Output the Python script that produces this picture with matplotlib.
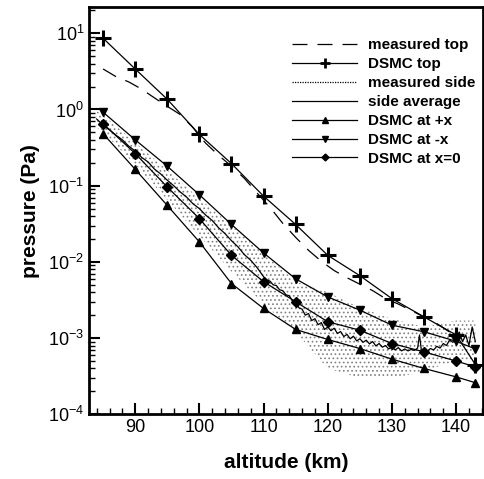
import matplotlib
matplotlib.use("Agg")
import matplotlib.pyplot as plt
from matplotlib.lines import Line2D
from matplotlib.ticker import MultipleLocator, LogLocator

plt.rcParams['font.family'] = ['Liberation Sans', 'DejaVu Sans']
plt.rcParams['mathtext.fontset'] = 'custom'
plt.rcParams['mathtext.rm'] = 'Liberation Sans'
plt.rcParams['hatch.linewidth'] = 0.7

# DSMC runs
alt_dsmc = [85, 90, 95, 100, 105, 110, 115, 120, 125, 130, 135, 140, 143]
dsmc_top = [8.6, 3.4, 1.36, 0.47, 0.195, 0.073, 0.031, 0.0122, 0.0066, 0.0033, 0.0019, 0.0011, 0.00045]
dsmc_px = [0.48, 0.164, 0.055, 0.0183, 0.0052, 0.00245, 0.0013, 0.00096, 0.00073, 0.00053, 0.0004, 0.00031, 0.00026]
dsmc_mx = [0.92, 0.40, 0.18, 0.076, 0.031, 0.0131, 0.006, 0.00347, 0.00233, 0.00148, 0.00121, 0.00091, 0.00072]
dsmc_x0 = [0.65, 0.264, 0.096, 0.037, 0.0122, 0.0055, 0.003, 0.00164, 0.00127, 0.00085, 0.00066, 0.0005, 0.00042]

# measured top
alt_mtop = [85, 87, 89, 91, 93, 95, 97, 99, 100, 101, 103, 105, 107, 109, 111, 113, 115,
            117, 119, 121, 123, 125, 127, 129, 131, 133, 135, 137, 139]
meas_top = [3.4, 2.7, 2.3, 1.85, 1.42, 1.1, 0.86, 0.58, 0.45, 0.36, 0.25, 0.18, 0.125, 0.08,
            0.052, 0.032, 0.021, 0.0142, 0.0102, 0.0077, 0.0062, 0.0051, 0.0042, 0.0033,
            0.0028, 0.0023, 0.0019, 0.00155, 0.0012]

# measured side: spread of the traces
alt_side = [84, 85, 90, 95, 100, 105, 110, 115, 120, 125, 130, 135, 138, 140, 143]
side_hi = [0.95, 0.85, 0.37, 0.16, 0.068, 0.03, 0.013, 0.0055, 0.004, 0.0025, 0.0018, 0.0014, 0.0016, 0.0017, 0.0017]
side_lo = [0.58, 0.5, 0.19, 0.065, 0.022, 0.0075, 0.0028, 0.0012, 0.0004, 0.0003, 0.0003, 0.00036, 0.00045, 0.0005, 0.0005]

# side average
alt_avg = [84, 85, 86, 87, 88, 89, 90, 91, 92, 93, 94, 95, 96, 97, 98, 99, 100, 101, 102,
           103, 104, 105, 106, 107, 108, 109, 110, 110.5, 111, 111.5, 112, 112.5, 113,
           113.5, 114, 114.5, 115, 115.5, 116, 116.5, 117, 117.5, 118, 118.5, 119, 119.5,
           120, 120.5, 121, 121.5, 122, 122.5, 123, 123.5, 124, 124.5, 125, 125.5, 126,
           126.5, 127, 127.5, 128, 128.5, 129, 129.5, 130, 130.5, 131, 131.5, 132, 132.5,
           133, 133.5, 134, 134.3, 134.6, 135, 135.5, 136, 136.5, 137, 137.5, 138, 138.5,
           139, 139.5, 140, 140.5, 141, 141.5, 142, 142.5, 143]
side_avg = [0.75, 0.62, 0.54, 0.46, 0.4, 0.33, 0.285, 0.235, 0.205, 0.165, 0.142, 0.118,
            0.1, 0.083, 0.071, 0.058, 0.05, 0.041, 0.035, 0.028, 0.0235, 0.019, 0.0158,
            0.0125, 0.0105, 0.0084, 0.0064, 0.0058, 0.0056, 0.005, 0.0049, 0.0043, 0.0042,
            0.0037, 0.0036, 0.0031, 0.003, 0.0025, 0.0024, 0.002, 0.0021, 0.0017, 0.0018,
            0.0015, 0.0016, 0.0013, 0.0014, 0.00125, 0.00135, 0.00115, 0.00122, 0.00105,
            0.00112, 0.00098, 0.00106, 0.00092, 0.00098, 0.00088, 0.00094, 0.00084, 0.0009,
            0.00079, 0.00085, 0.00076, 0.0008, 0.00072, 0.00077, 0.0007, 0.00075, 0.00068,
            0.00072, 0.00068, 0.00071, 0.00069, 0.00074, 0.0011, 0.00068, 0.00071, 0.00067,
            0.00073, 0.0007, 0.00078, 0.00074, 0.00085, 0.0008, 0.00095, 0.00088, 0.001,
            0.0012, 0.0009, 0.0011, 0.0008, 0.0014, 0.0009]

fig = plt.figure(figsize=(4.85, 4.79), dpi=100)
ax = fig.add_axes([0.1835, 0.135, 0.8125, 0.85])

ax.fill_between(alt_side, side_lo, side_hi, facecolor='none', edgecolor='0.5',
                hatch='....', linewidth=0)
ax.plot(alt_mtop, meas_top, color='k', lw=0.9, ls=(0, (12, 8)))
ax.plot(alt_avg, side_avg, color='k', lw=0.9)
ax.plot(alt_dsmc, dsmc_top, color='k', lw=0.9, marker='+', ms=11, mew=2.2)
ax.plot(alt_dsmc, dsmc_px, color='k', lw=0.9, marker='^', ms=6)
ax.plot(alt_dsmc, dsmc_mx, color='k', lw=0.9, marker='v', ms=6)
ax.plot(alt_dsmc, dsmc_x0, color='k', lw=0.9, marker='D', ms=5.5)

ax.set_yscale('log')
ax.set_xlim(82.8, 144.2)
ax.set_ylim(1e-4, 22)
ax.xaxis.set_major_locator(MultipleLocator(10))
ax.xaxis.set_minor_locator(MultipleLocator(2))
ax.yaxis.set_major_locator(LogLocator(base=10, numticks=10))
ax.yaxis.set_minor_locator(LogLocator(base=10, subs=range(2, 10), numticks=10))
ax.tick_params(which='both', direction='in', top=False, right=False, labelsize=13)
ax.tick_params(which='major', length=8, width=1.5)
ax.tick_params(which='minor', length=4, width=1)
for s in ax.spines.values():
    s.set_linewidth(2)

ax.set_xlabel('altitude (km)', fontsize=15, fontweight='bold', labelpad=12)
ax.set_ylabel('pressure (Pa)', fontsize=15, fontweight='bold', labelpad=6)

handles = [
    Line2D([], [], color='k', lw=0.9, ls=(0, (12, 8))),
    Line2D([], [], color='k', lw=0.9, marker='+', ms=7, mew=2),
    Line2D([], [], color='k', lw=0.9, ls=(0, (1, 1))),
    Line2D([], [], color='k', lw=0.9),
    Line2D([], [], color='k', lw=0.9, marker='^', ms=4),
    Line2D([], [], color='k', lw=0.9, marker='v', ms=4),
    Line2D([], [], color='k', lw=0.9, marker='D', ms=3.5),
]
labels = ['measured top', 'DSMC top', 'measured side', 'side average',
          'DSMC at +x', 'DSMC at -x', 'DSMC at x=0']
ax.legend(handles, labels, loc='upper right', bbox_to_anchor=(1.015, 0.957), frameon=False,
          prop={'size': 11, 'weight': 'bold'}, handlelength=4.25, handletextpad=0.7,
          labelspacing=0.32)

fig.savefig('out.png', dpi=100)
